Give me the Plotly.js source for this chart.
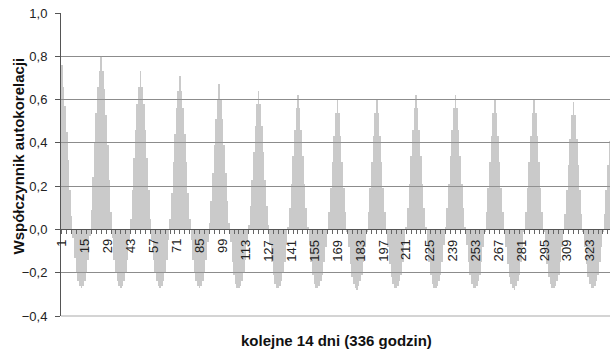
<!DOCTYPE html>
<html>
<head>
<meta charset="utf-8">
<script src="https://cdn.plot.ly/plotly-3.0.1.min.js"></script>
<style>
html,body{margin:0;padding:0;overflow:hidden;background:#fff;}
#chart{width:612px;height:350px;}
</style>
</head>
<body>
<div id="chart"></div>
<script>
// Autocorrelation coefficients, 24 hourly lags per day (14 days = 336 lags)
var day01 = [0.76, 0.66, 0.57, 0.45, 0.32, 0.18, 0.06, -0.04, -0.13, -0.20, -0.24, -0.26, -0.27, -0.26, -0.24, -0.20, -0.14, -0.03, 0.09, 0.24, 0.40, 0.54, 0.66, 0.73];
var day02 = [0.80, 0.73, 0.65, 0.53, 0.39, 0.23, 0.08, -0.04, -0.14, -0.20, -0.24, -0.26, -0.27, -0.26, -0.24, -0.20, -0.14, -0.05, 0.05, 0.18, 0.33, 0.46, 0.58, 0.66];
var day03 = [0.73, 0.66, 0.58, 0.46, 0.33, 0.18, 0.05, -0.05, -0.14, -0.20, -0.24, -0.26, -0.27, -0.26, -0.24, -0.20, -0.14, -0.05, 0.05, 0.17, 0.31, 0.44, 0.56, 0.64];
var day04 = [0.71, 0.64, 0.56, 0.44, 0.31, 0.17, 0.05, -0.05, -0.14, -0.20, -0.24, -0.26, -0.27, -0.26, -0.24, -0.20, -0.14, -0.06, 0.03, 0.13, 0.26, 0.39, 0.51, 0.60];
var day05 = [0.67, 0.60, 0.51, 0.39, 0.26, 0.13, 0.03, -0.06, -0.15, -0.21, -0.25, -0.27, -0.27, -0.26, -0.24, -0.20, -0.14, -0.07, 0.02, 0.11, 0.23, 0.36, 0.48, 0.58];
var day06 = [0.64, 0.58, 0.48, 0.36, 0.23, 0.11, 0.02, -0.07, -0.15, -0.21, -0.25, -0.27, -0.27, -0.26, -0.24, -0.20, -0.15, -0.07, 0.01, 0.10, 0.21, 0.34, 0.46, 0.56];
var day07 = [0.62, 0.56, 0.46, 0.34, 0.21, 0.10, 0.01, -0.07, -0.15, -0.21, -0.25, -0.27, -0.27, -0.26, -0.24, -0.21, -0.15, -0.08, -0.01, 0.08, 0.19, 0.31, 0.43, 0.54];
var day08 = [0.60, 0.54, 0.43, 0.31, 0.19, 0.08, -0.01, -0.08, -0.16, -0.22, -0.25, -0.27, -0.28, -0.26, -0.24, -0.21, -0.15, -0.08, -0.01, 0.08, 0.19, 0.31, 0.43, 0.54];
var day09 = [0.60, 0.54, 0.43, 0.31, 0.19, 0.08, -0.01, -0.08, -0.16, -0.22, -0.25, -0.27, -0.27, -0.26, -0.24, -0.21, -0.15, -0.07, 0.01, 0.10, 0.21, 0.34, 0.46, 0.56];
var day10 = [0.62, 0.56, 0.46, 0.34, 0.21, 0.10, 0.01, -0.07, -0.15, -0.21, -0.25, -0.27, -0.27, -0.26, -0.24, -0.21, -0.15, -0.07, 0.01, 0.10, 0.21, 0.34, 0.46, 0.56];
var day11 = [0.62, 0.56, 0.46, 0.34, 0.21, 0.10, 0.01, -0.07, -0.15, -0.21, -0.25, -0.27, -0.27, -0.26, -0.24, -0.21, -0.15, -0.08, -0.01, 0.08, 0.19, 0.31, 0.43, 0.54];
var day12 = [0.60, 0.54, 0.43, 0.31, 0.19, 0.08, -0.01, -0.08, -0.16, -0.22, -0.25, -0.27, -0.28, -0.26, -0.24, -0.21, -0.15, -0.08, -0.01, 0.08, 0.19, 0.31, 0.43, 0.54];
var day13 = [0.60, 0.54, 0.43, 0.31, 0.19, 0.08, -0.01, -0.08, -0.16, -0.22, -0.25, -0.27, -0.27, -0.26, -0.24, -0.21, -0.15, -0.08, -0.01, 0.07, 0.18, 0.30, 0.42, 0.53];
var day14 = [0.59, 0.53, 0.42, 0.30, 0.18, 0.07, -0.01, -0.08, -0.16, -0.22, -0.25, -0.27, -0.27, -0.26, -0.24, -0.21, -0.15, -0.08, -0.01, 0.07, 0.18, 0.30, 0.41, 0.52];

var tickLabels = ["1","15","29","43","57","71","85","99","113","127","141","155","169","183","197","211","225","239","253","267","281","295","309","323"];
var yTitle = "Współczynnik autokorelacji";
var xTitle = "kolejne 14 dni (336 godzin)";

var values = [].concat(day01, day02, day03, day04, day05, day06, day07, day08, day09, day10, day11, day12, day13, day14);
var lags = values.map(function (v, i) { return i + 1; });

var FONT = "Arial, 'Liberation Sans', sans-serif";

var trace = {
  type: "bar",
  x: lags,
  y: values,
  marker: { color: "rgba(150,150,150,0.5)", line: { width: 0 } },
  hoverinfo: "x+y"
};

var annotations = tickLabels.map(function (t) {
  return {
    text: t, x: Number(t), y: 0, xref: "x", yref: "y",
    textangle: -90, xanchor: "center", yanchor: "top", yshift: -9,
    showarrow: false, borderpad: 0,
    font: { family: FONT, size: 13, color: "#222" }
  };
});
annotations.push({
  text: "<b>" + yTitle + "</b>", xref: "paper", yref: "paper", x: 0, y: 0.5,
  xshift: -43, yshift: 8, textangle: -90, showarrow: false,
  xanchor: "center", yanchor: "middle",
  font: { family: FONT, size: 15, color: "#111" }
});
annotations.push({
  text: "<b>" + xTitle + "</b>", xref: "paper", yref: "paper", x: 0.5, y: 0,
  yshift: -24, showarrow: false, xanchor: "center", yanchor: "middle",
  font: { family: FONT, size: 15, color: "#111" }
});

var layout = {
  width: 612, height: 350,
  margin: { l: 61, r: 0, t: 13, b: 34 },
  paper_bgcolor: "#fff", plot_bgcolor: "#fff",
  separators: ", ",
  showlegend: false,
  bargap: 0,
  font: { family: FONT, size: 13, color: "#222" },
  xaxis: {
    range: [0.5, 336.5],
    anchor: "free", position: 0.4 / 1.4,
    showline: true, linecolor: "#555", linewidth: 1,
    showgrid: false, zeroline: false,
    tickmode: "linear", tick0: 1, dtick: 3,
    ticks: "outside", ticklen: 4, tickcolor: "#666", tickwidth: 1,
    showticklabels: false, fixedrange: true
  },
  yaxis: {
    range: [-0.4, 1.0], domain: [0, 1],
    tickmode: "linear", tick0: -0.4, dtick: 0.2, tickformat: ".1f",
    showline: true, linecolor: "#555", linewidth: 1,
    ticks: "outside", ticklen: 5, tickcolor: "#555",
    ticklabelstandoff: 5,
    showgrid: true, gridcolor: "#8c8c8c", gridwidth: 1,
    zeroline: false,
    tickfont: { family: FONT, size: 13, color: "#222" },
    fixedrange: true
  },
  shapes: [{
    type: "line", xref: "paper", yref: "paper", x0: 0, x1: 1, y0: 0, y1: 0,
    line: { color: "#d4d4d4", width: 2 }, layer: "above"
  }],
  annotations: annotations
};

Plotly.newPlot("chart", [trace], layout, { displayModeBar: false, staticPlot: true });
</script>
</body>
</html>
